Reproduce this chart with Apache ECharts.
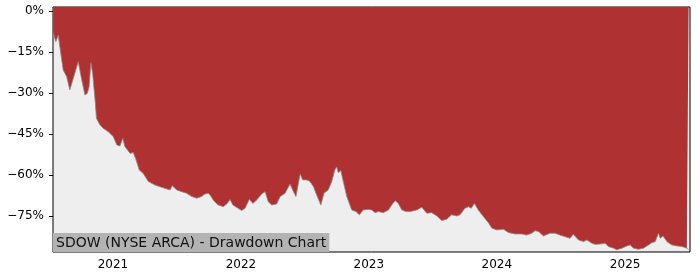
<!DOCTYPE html>
<html>
<head>
<meta charset="utf-8">
<script src="https://cdn.jsdelivr.net/npm/echarts@6/dist/echarts.min.js"></script>
<style>
html,body{margin:0;padding:0;background:#fff;}
#chart{width:700px;height:280px;}
</style>
</head>
<body>
<div id="chart"></div>
<script>
const chartTitle = 'SDOW (NYSE ARCA) - Drawdown Chart';
const dates = [
"2020-07-15","2020-07-22","2020-07-29","2020-08-03","2020-08-12","2020-08-22","2020-08-31","2020-09-10","2020-09-15","2020-09-24",
"2020-10-04","2020-10-13","2020-10-20","2020-10-25","2020-10-30","2020-11-04","2020-11-11","2020-11-15","2020-11-25","2020-12-04",
"2020-12-19","2021-01-02","2021-01-12","2021-01-21","2021-01-29","2021-02-04","2021-02-19","2021-02-28","2021-03-08","2021-03-17",
"2021-03-28","2021-04-12","2021-05-01","2021-05-15","2021-05-29","2021-06-13","2021-06-19","2021-07-02","2021-07-16","2021-07-30",
"2021-08-14","2021-08-28","2021-09-11","2021-09-20","2021-09-30","2021-10-07","2021-10-14","2021-10-28","2021-11-12","2021-11-23",
"2021-12-01","2021-12-09","2022-01-03","2022-01-13","2022-01-25","2022-02-04","2022-02-15","2022-03-01","2022-03-11","2022-03-20",
"2022-03-30","2022-04-13","2022-04-23","2022-05-07","2022-05-21","2022-05-31","2022-06-07","2022-06-19","2022-06-26","2022-07-08",
"2022-07-17","2022-07-27","2022-08-05","2022-08-17","2022-08-26","2022-09-07","2022-09-17","2022-09-26","2022-10-01","2022-10-06",
"2022-10-13","2022-10-20","2022-10-30","2022-11-13","2022-11-25","2022-12-05","2022-12-16","2022-12-31","2023-01-09","2023-01-19",
"2023-01-28","2023-02-11","2023-02-26","2023-03-07","2023-03-17","2023-03-26","2023-04-05","2023-04-17","2023-04-29","2023-05-18",
"2023-06-01","2023-06-15","2023-06-29","2023-07-14","2023-07-28","2023-08-11","2023-08-25","2023-09-09","2023-09-18","2023-10-02",
"2023-10-12","2023-10-20","2023-10-29","2023-11-09","2023-11-24","2023-12-08","2023-12-18","2024-01-01","2024-01-20","2024-02-03",
"2024-02-22","2024-03-12","2024-03-26","2024-04-10","2024-04-19","2024-04-29","2024-05-13","2024-06-01","2024-06-15","2024-06-29",
"2024-07-14","2024-07-28","2024-08-06","2024-08-21","2024-09-04","2024-09-14","2024-09-28","2024-10-07","2024-10-22","2024-11-05",
"2024-11-14","2024-11-29","2024-12-08","2024-12-23","2025-01-06","2025-01-15","2025-01-25","2025-02-08","2025-02-22","2025-03-09",
"2025-03-18","2025-03-28","2025-04-06","2025-04-11","2025-04-19","2025-04-30","2025-05-14","2025-05-29","2025-06-12","2025-06-26",
"2025-07-01"
];
const drawdown = [
-8.2,-11.2,-8.8,-13.5,-21.6,-24.0,-28.9,-24.6,-25.2,-18.5,
-25.2,-30.7,-30.1,-27.7,-18.9,-22.8,-32.6,-39.3,-41.7,-42.9,
-44.2,-46.0,-49.0,-49.4,-46.6,-49.6,-52.1,-51.8,-54.5,-58.2,
-59.4,-62.4,-63.7,-64.3,-64.9,-65.5,-63.9,-65.5,-66.1,-66.7,
-67.9,-68.5,-67.9,-67.0,-66.7,-67.7,-69.2,-71.0,-71.6,-70.4,
-69.0,-71.0,-73.0,-72.2,-68.9,-70.4,-69.2,-67.0,-66.1,-69.8,
-71.0,-70.6,-67.9,-66.7,-63.3,-66.1,-67.9,-59.6,-61.8,-61.8,
-62.4,-64.3,-67.3,-71.0,-66.7,-65.5,-62.4,-58.2,-57.0,-59.2,
-58.4,-62.4,-67.9,-72.8,-73.4,-74.6,-72.8,-72.6,-72.8,-73.8,
-73.4,-73.8,-72.8,-71.0,-69.4,-70.4,-72.8,-73.4,-73.4,-72.8,
-71.8,-74.0,-73.8,-75.0,-76.7,-76.2,-74.6,-75.0,-74.6,-72.2,
-71.6,-72.2,-70.4,-72.8,-75.3,-77.5,-79.5,-80.1,-79.9,-81.1,
-81.6,-81.6,-82.0,-81.3,-80.4,-80.7,-82.3,-81.3,-81.3,-82.0,
-82.6,-83.2,-81.7,-83.8,-84.4,-83.8,-85.0,-85.4,-85.3,-85.0,
-86.2,-86.8,-87.4,-86.8,-86.0,-85.6,-86.8,-87.2,-86.8,-85.6,
-84.8,-84.4,-81.3,-83.2,-82.3,-84.4,-85.6,-86.0,-86.2,-86.8,
-87.4
];
const yTickValues = [0, -15, -30, -45, -60, -75];
const xTickDates = ["2021-01-01","2022-01-01","2023-01-01","2024-01-01","2025-01-01"];
const xRange = ["2020-07-14","2025-07-05"];
const yRange = [-88.2, 1.5];

function ts(s){ const p = s.split('-').map(Number); return Date.UTC(p[0], p[1]-1, p[2]); }
const seriesData = dates.map((d, i) => [ts(d), drawdown[i]]);
const xTicks = xTickDates.map(ts);
const FONT = 'DejaVu Sans';

const chart = echarts.init(document.getElementById('chart'), null, {renderer: 'canvas'});
chart.setOption({
  animation: false,
  backgroundColor: '#ffffff',
  title: {
    text: chartTitle,
    left: 53, bottom: 28,
    padding: [3, 3, 2, 3],
    backgroundColor: '#b3b3b3',
    textStyle: {fontFamily: FONT, fontSize: 14, lineHeight: 14, fontWeight: 'normal', color: '#111'}
  },
  grid: {
    left: 53, right: 10, top: 7, bottom: 28,
    show: true, backgroundColor: '#eeeeee', borderColor: '#000', borderWidth: 1
  },
  xAxis: {
    type: 'value',
    min: ts(xRange[0]), max: ts(xRange[1]),
    axisLine: {show: false},
    splitLine: {show: false},
    axisTick: {show: true, length: 4, lineStyle: {color: '#000'}, customValues: xTicks},
    axisLabel: {
      customValues: xTicks, margin: 7,
      fontFamily: FONT, fontSize: 12, color: '#000',
      formatter: v => String(new Date(v).getUTCFullYear())
    }
  },
  yAxis: {
    type: 'value',
    min: yRange[0], max: yRange[1],
    axisLine: {show: false},
    splitLine: {show: false},
    axisTick: {show: true, length: 4, lineStyle: {color: '#000'}, customValues: yTickValues},
    axisLabel: {
      customValues: yTickValues, margin: 9,
      fontFamily: FONT, fontSize: 12, color: '#000',
      formatter: v => (v < 0 ? '\u2212' + Math.abs(v) : String(v)) + '%'
    }
  },
  series: [{
    type: 'line',
    data: seriesData,
    symbol: 'none',
    lineStyle: {color: '#8a8a8a', width: 0.8},
    areaStyle: {origin: 'end', color: '#b03131', opacity: 1},
    z: 1
  }]
});
</script>
</body>
</html>
